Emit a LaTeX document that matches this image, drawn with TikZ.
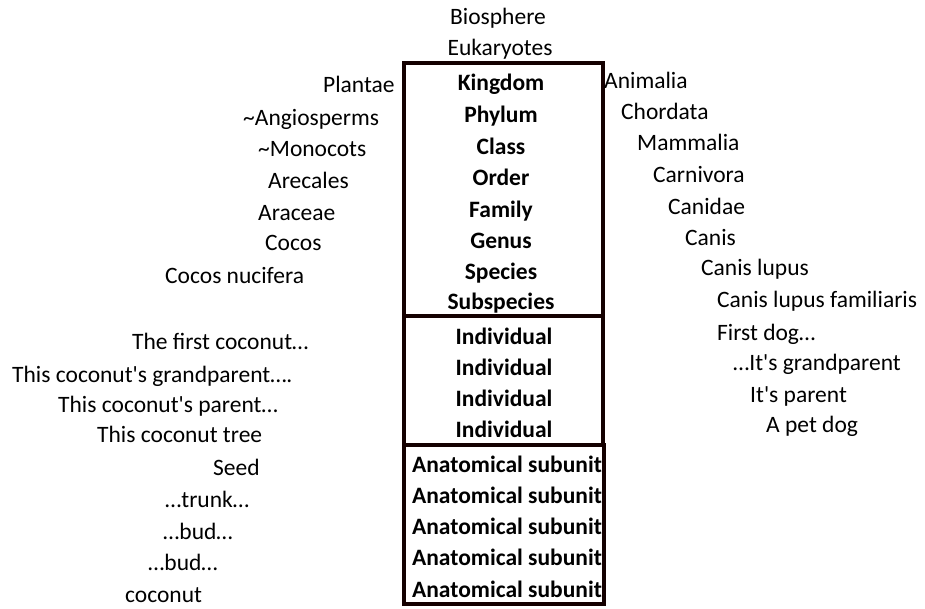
\documentclass[tikz,border=0pt]{standalone}
\usepackage{fontspec}
\setmainfont{Carlito}[Ligatures=TeXOff]
\usetikzlibrary{positioning}

\begin{document}
\begin{tikzpicture}[x=1pt, y=-1pt,
    every node/.style={inner sep=0pt, font=\fontsize{23.5}{28}\selectfont},
    rank/.style={anchor=base, font=\fontsize{23.5}{28}\selectfont\bfseries},
    taxon/.style={anchor=base west},
    boxline/.style={line width=3.2pt, draw=black!92!red}]
  \useasboundingbox (0,0) rectangle (925,608);
  % top of the hierarchy
  \node[anchor=base] (bio) at (498,24.5) {Biosphere};
  \node[anchor=base] (euk) at (500,55.5) {Eukaryotes};
  % the three boxes
  \coordinate (tl) at (404,63);
  \coordinate (tr) at (603,63);
  \coordinate (m1) at (603,316);
  \coordinate (m2) at (603,445);
  \coordinate (br) at (604,604);
  \draw[boxline] (tl) rectangle (m1);
  \draw[boxline] (tl |- m1) rectangle (m2);
  \draw[boxline] (tl |- m2) rectangle (br);
  \foreach \y/\lab [count=\i] in {83/Kingdom, 115/Phylum, 147/Class, 178/Order,
      210/Family, 241/Genus, 272/Species, 302/Subspecies} {
    \node[rank] (rank\i) at (501,{\y+7.5}) {\lab};
  }
  \foreach \y [count=\i] in {337, 368, 399, 430} {
    \node[rank] (ind\i) at (504,{\y+7.5}) {Individual};
  }
  \foreach \y [count=\i] in {465, 496, 527, 558, 590} {
    \node[rank] (sub\i) at (507,{\y+7.5}) {Anatomical subunit};
  }
  % coconut side
  \foreach \x/\y/\lab [count=\i] in {323/85/Plantae, 243/118/{\textasciitilde Angiosperms},
      258/149/{\textasciitilde Monocots}, 268/181/Arecales, 258/213/Araceae, 265/243/Cocos,
      165/276/Cocos nucifera, 132/342/{The first coconut…},
      12/375/{This coconut's grandparent….}, 58/405/{This coconut's parent…},
      97/435/This coconut tree, 213/468/Seed, 165/500/{…trunk…}, 163/532/{…bud…},
      148/563/{…bud…}, 125/595/coconut} {
    \node[taxon] (plant\i) at (\x,{\y+7.5}) {\lab};
  }
  % dog side
  \foreach \x/\y/\lab [count=\i] in {604/81/Animalia, 621/112/Chordata, 637/143/Mammalia,
      653/175/Carnivora, 668/207/Canidae, 685/238/Canis, 701/268/Canis lupus,
      717/300/Canis lupus familiaris, 717/333/{First dog…}, 733/363/{…It's grandparent},
      750/395/{It's parent}, 766/425/A pet dog} {
    \node[taxon] (dog\i) at (\x,{\y+7.5}) {\lab};
  }
\end{tikzpicture}
\end{document}
